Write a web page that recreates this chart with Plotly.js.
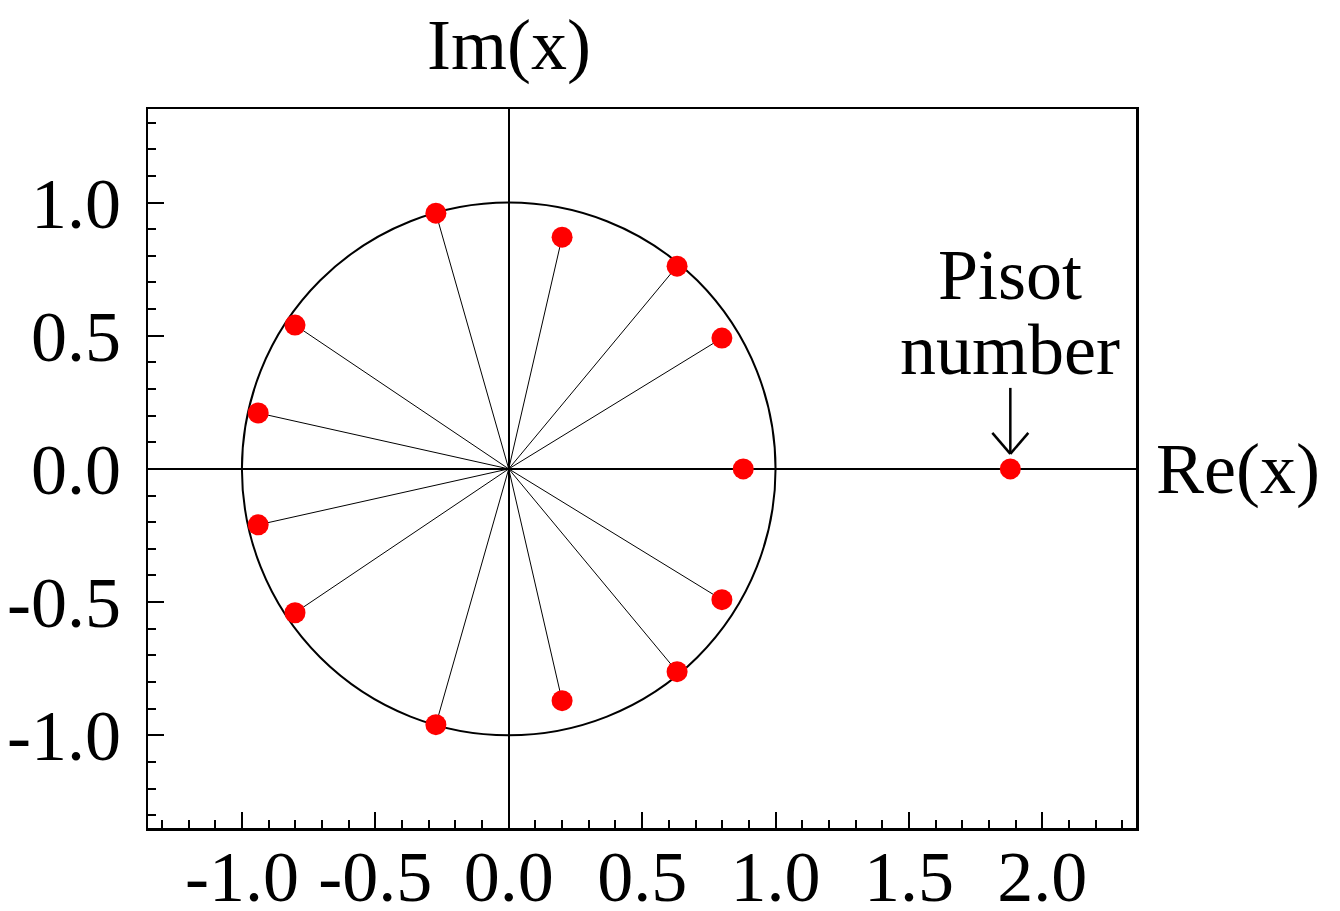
<!DOCTYPE html>
<html>
<head>
<meta charset="utf-8">
<script src="https://cdn.plot.ly/plotly-3.0.1.min.js"></script>
<style>
html,body{margin:0;padding:0;background:#fff;}
#chart{width:1340px;height:911px;}
</style>
</head>
<body>
<div id="chart"></div>
<script>
// Roots inside (or on) the unit circle
const rootRe = [-0.273, 0.200, 0.631, 0.799, 0.879, -0.801, -0.939, -0.939, -0.801, 0.799, 0.631, 0.200, -0.273];
const rootIm = [0.960, 0.870, 0.761, 0.491, 0.000, 0.540, 0.210, -0.210, -0.540, -0.491, -0.761, -0.870, -0.960];
// The Pisot number (real root outside the circle)
const pisotRe = [1.880];
const pisotIm = [0.0];
// Axis ticks
const xTickVals = [-1.0, -0.5, 0.0, 0.5, 1.0, 1.5, 2.0];
const xTickText = ["-1.0", "-0.5", "0.0", "0.5", "1.0", "1.5", "2.0"];
const yTickVals = [-1.0, -0.5, 0.0, 0.5, 1.0];
const yTickText = ["-1.0", "-0.5", "0.0", "0.5", "1.0"];
const unitRadius = 1;

// spokes from origin to each root
const spokeX = [], spokeY = [];
rootRe.forEach((re, i) => { spokeX.push(0, re, null); spokeY.push(0, rootIm[i], null); });

const FONT = "Liberation Serif, Times New Roman, serif";

const traces = [
  {x: spokeX, y: spokeY, mode: 'lines', line: {color: 'black', width: 1}, hoverinfo: 'skip', showlegend: false},
  {x: rootRe, y: rootIm, mode: 'markers', marker: {color: '#ff0000', size: 21}, showlegend: false},
  {x: pisotRe, y: pisotIm, mode: 'markers', marker: {color: '#ff0000', size: 21}, showlegend: false}
];

const axisCommon = {
  showgrid: false,
  zeroline: true, zerolinecolor: 'black', zerolinewidth: 2,
  showline: true, linecolor: 'black', linewidth: 2.5, mirror: true,
  ticks: 'inside', ticklen: 16, tickwidth: 2, tickcolor: 'black',
  tickmode: 'array',
  tickfont: {family: FONT, size: 72, color: 'black'},
  minor: {tickmode: 'linear', tick0: 0, dtick: 0.1, ticks: 'inside', ticklen: 8, tickwidth: 2, tickcolor: 'black'}
};

const layout = {
  width: 1340, height: 911,
  margin: {l: 148, r: 204, t: 109, b: 83},
  paper_bgcolor: 'white', plot_bgcolor: 'white',
  font: {family: FONT, color: 'black'},
  xaxis: Object.assign({}, axisCommon, {range: [-1.352, 2.351], tickvals: xTickVals, ticktext: xTickText, ticklabelstandoff: -16}),
  yaxis: Object.assign({}, axisCommon, {range: [-1.348, 1.351], tickvals: yTickVals, ticktext: yTickText, ticklabelstandoff: 10}),
  shapes: [
    {type: 'circle', xref: 'x', yref: 'y', x0: -unitRadius, x1: unitRadius, y0: -unitRadius, y1: unitRadius,
     line: {color: 'black', width: 2}, layer: 'below'},
    // arrow pointing at the Pisot number
    {type: 'line', xref: 'x', yref: 'y', xsizemode: 'pixel', ysizemode: 'pixel',
     xanchor: pisotRe[0], yanchor: pisotIm[0], x0: 0, x1: 0, y0: 15, y1: 81, line: {color: 'black', width: 2.5}},
    {type: 'line', xref: 'x', yref: 'y', xsizemode: 'pixel', ysizemode: 'pixel',
     xanchor: pisotRe[0], yanchor: pisotIm[0], x0: -18, x1: 0, y0: 36, y1: 15, line: {color: 'black', width: 2.5}},
    {type: 'line', xref: 'x', yref: 'y', xsizemode: 'pixel', ysizemode: 'pixel',
     xanchor: pisotRe[0], yanchor: pisotIm[0], x0: 18, x1: 0, y0: 36, y1: 15, line: {color: 'black', width: 2.5}}
  ],
  annotations: [
    {text: 'Im(x)', xref: 'x', x: 0, yref: 'paper', y: 1, xanchor: 'center', yanchor: 'bottom', yshift: 22,
     showarrow: false, font: {family: FONT, size: 72, color: 'black'}},
    {text: 'Re(x)', xref: 'paper', x: 1, yref: 'y', y: 0, xanchor: 'left', yanchor: 'middle', xshift: 18,
     showarrow: false, font: {family: FONT, size: 72, color: 'black'}},
    {text: 'Pisot', xref: 'x', x: pisotRe[0], yref: 'y', y: pisotIm[0], xanchor: 'center', yanchor: 'bottom', yshift: 152,
     showarrow: false, font: {family: FONT, size: 72, color: 'black'}},
    {text: 'number', xref: 'x', x: pisotRe[0], yref: 'y', y: pisotIm[0], xanchor: 'center', yanchor: 'bottom', yshift: 77,
     showarrow: false, font: {family: FONT, size: 72, color: 'black'}}
  ]
};

Plotly.newPlot('chart', traces, layout, {displayModeBar: false, staticPlot: true});
</script>
</body>
</html>
